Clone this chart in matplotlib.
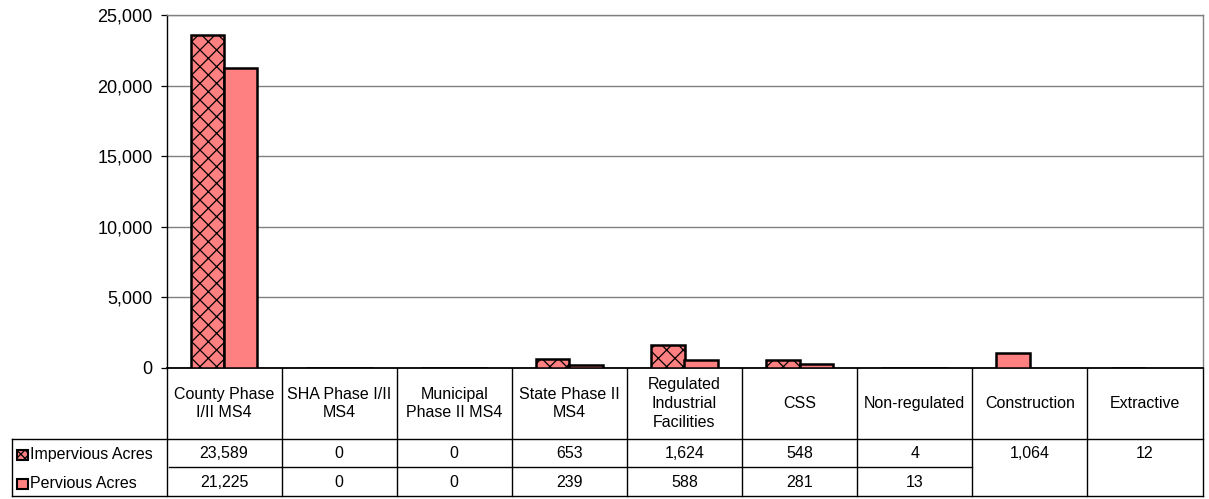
import numpy as np
import matplotlib.pyplot as plt
from matplotlib.transforms import blended_transform_factory
from matplotlib.patches import Rectangle

plt.rcParams['font.family'] = ['Liberation Sans', 'DejaVu Sans']
plt.rcParams['hatch.linewidth'] = 0.9

categories = ['County Phase\nI/II MS4', 'SHA Phase I/II\nMS4', 'Municipal\nPhase II MS4',
              'State Phase II\nMS4', 'Regulated\nIndustrial\nFacilities', 'CSS',
              'Non-regulated', 'Construction', 'Extractive']
impervious = [23589, 0, 0, 653, 1624, 548, 4, np.nan, np.nan]
pervious = [21225, 0, 0, 239, 588, 281, 13, np.nan, np.nan]
# last two categories only have a combined total (merged cells in the table)
combined = [np.nan] * 7 + [1064, 12]
series_names = ['Impervious Acres', 'Pervious Acres']

fill = '#FF8080'
W, H = 1209, 499
fig = plt.figure(figsize=(W / 100, H / 100), dpi=100)
ax = fig.add_axes([166.5 / W, 1 - 368 / H, 1036 / W, 353 / H])

x = np.arange(len(categories))
w = 0.29
ax.bar(x - w / 2, impervious, w, color=fill, edgecolor='black', linewidth=1.8, hatch='xx', zorder=3)
ax.bar(x + w / 2, pervious, w, color=fill, edgecolor='black', linewidth=1.8, zorder=3)
ax.bar(x - w / 2, combined, w, color=fill, edgecolor='black', linewidth=1.8, zorder=3)

ax.set_xlim(-0.5, len(categories) - 0.5)
ax.set_ylim(0, 25000)
ax.set_yticks(np.arange(0, 25001, 5000))
ax.set_yticklabels([f'{v:,}' for v in range(0, 25001, 5000)], fontsize=13)
ax.yaxis.grid(True, color='#808080', linewidth=1, zorder=0)
ax.set_xticks([])
ax.tick_params(axis='y', length=4.5, width=0.9, color='black', pad=5.5)
for s in ['top', 'right']:
    ax.spines[s].set_color('#808080')
    ax.spines[s].set_linewidth(1.0)
ax.spines['left'].set_linewidth(1.0)
ax.spines['bottom'].set_linewidth(1.3)

# data table under the chart
tr = blended_transform_factory(ax.transData, ax.transAxes)
def ya(py):
    return (368 - py) / 353
y_head, y_mid, y_row, y_bot = ya(403.5), ya(439), ya(467), ya(496)
n = len(categories)
fs = 11.5
lk = dict(color='black', linewidth=1.0, transform=tr, clip_on=False)
for b in np.arange(-0.5, n, 1.0):
    ax.plot([b, b], [0, y_bot], **lk)
xl = -0.5 - (166.5 - 12) / 1036 * n
ax.plot([xl, n - 0.5], [y_mid, y_mid], **lk)
ax.plot([xl, n - 0.5], [y_bot, y_bot], **lk)
ax.plot([xl, xl], [y_mid, y_bot], **lk)
ax.plot([-0.48, 6.5], [y_row, y_row], **lk)

for i, c in enumerate(categories):
    ax.text(i, y_head, c, transform=tr, ha='center', va='center', fontsize=fs,
            linespacing=1.3)
    if np.isnan(combined[i]):
        ax.text(i, ya(454), f'{impervious[i]:,}', transform=tr, ha='center', va='center', fontsize=fs)
        ax.text(i, ya(483), f'{pervious[i]:,}', transform=tr, ha='center', va='center', fontsize=fs)
    else:
        ax.text(i, ya(454), f'{int(combined[i]):,}', transform=tr, ha='center', va='center', fontsize=fs)

# legend keys inside the table
kw = 10.5 / 1036 * n
kx = -0.5 - (166.5 - 17) / 1036 * n
for k, (py, name) in enumerate(zip([455, 484], series_names)):
    ax.add_patch(Rectangle((kx, ya(py + 5)), kw, 10 / 353, transform=tr, clip_on=False,
                           facecolor=fill, edgecolor='black', linewidth=1.5,
                           hatch='xxxx' if k == 0 else None))
    ax.text(kx + kw + 0.025, ya(py), name, transform=tr, ha='left', va='center', fontsize=fs)

fig.savefig('out.png', dpi=100)
